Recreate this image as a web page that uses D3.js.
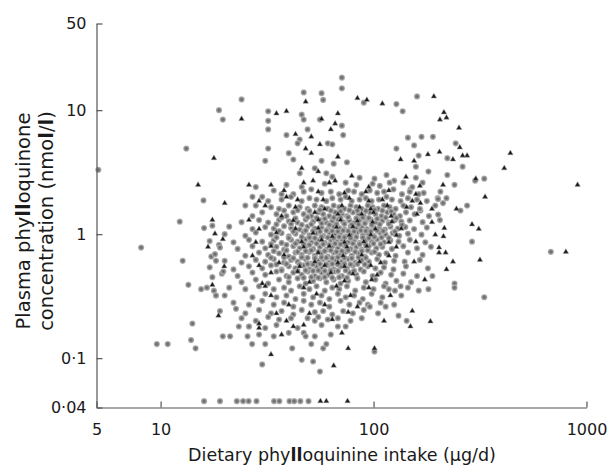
<!DOCTYPE html>
<html><head><meta charset="utf-8">
<script src="https://cdnjs.cloudflare.com/ajax/libs/d3/7.8.5/d3.min.js"></script>
<style>body{margin:0;background:#fff}svg{display:block}</style>
</head><body>
<svg id="chart" width="608" height="466"></svg>
<script>
// ---- tick values & labels ----
const xTicks = [5, 10, 100, 1000];
const xTickLabels = ["5", "10", "100", "1000"];
const yTicks = [0.04, 0.1, 1, 10, 50];
const yTickLabels = ["0·04", "0·1", "1", "10", "50"];

// ---- data: [dietary intake (µg/d), plasma phylloquinone (nmol/l)] ----
const circlesSparse = [
[5.1,3.3],[8.1,0.78],[9.6,0.13],[10.8,0.13],[12.3,1.26],[13.2,4.9],[12.7,0.61],[13.5,0.39],[15.5,0.36],[14.1,0.19],[13.9,0.14],[14.6,0.12],[17.5,1.17],[19.6,0.15],[21.2,0.15],[22.6,0.25],[23.3,0.18],[25.6,0.15],[26.9,0.13],[30,0.089],[41.5,0.12],[40,0.16],[26,0.18],[18.2,0.32],[18.8,10],[19.6,8.4],[15.9,1.87],[24,12.2],[47,13.9],[57,13.7],[71,18.3],[71,15],[160,12.9],[128,11.2],[137,9.8],[90,11.5],[58,12.1],[32,9.8],[32,8.2],[32,7.0],[32,4.9],[31,3.9],[40,4.5],[42,4.0],[39,6.3],[45,5.8],[44,5.4],[49,7.0],[46,9.2],[47,8.4],[56,8.4],[61,5.4],[64,5.3],[71,7.5],[72,6.3],[28,2.4],[25,1.7],[27,2.0],[30,2.0],[37,2.1],[46,2.4],[45,3.1],[53,3.4],[60,3.1],[57,3.9],[65,3.7],[75,3.8],[145,6.0],[168,6.1],[190,6.1],[243,5.4],[155,5.2],[163,4.3],[128,4.9],[158,3.5],[181,3.2],[222,4.1],[262,3.5],[222,3.0],[206,2.2],[200,1.95],[212,1.78],[170,2.6],[163,2.1],[149,2.3],[138,2.6],[125,2.7],[256,1.55],[275,1.7],[201,1.44],[166,1.55],[201,1.92],[331,2.8],[300,2.7],[290,0.87],[331,0.31],[240,0.4],[240,0.37],[163,0.35],[181,0.36],[189,0.46],[134,0.38],[118,0.36],[114,0.26],[94,0.27],[131,0.22],[143,0.2],[101,0.113],[56,0.078],[52,0.094],[58,0.12],[51,0.13],[47,0.16],[48,0.15],[46,0.097],[68,0.18],[49,0.21],[53,0.2],[680,0.72],
[18.8,0.82],[17.3,0.66],[18.2,0.61],[19.4,0.48],[19.7,0.5],[17.5,0.45],[16.5,0.37],[17.8,0.35],[18.2,0.32]
];
const circlesCore = [
[64,2.9],[86,2.85],[101,2.8],[115,3.0],[158,2.85],
[39,2.5],[59,2.55],[74,2.6],[83,2.5],[99,2.55],[107,2.45],[119,2.6],[152,2.4],[240,2.5],
[34,2.25],[42,2.1],[47,2.2],[51,2.3],[57,2.15],[63,2.2],[69,2.1],[76,2.25],[81,2.2],[88,2.1],[96,2.25],[104,2.15],[112,2.2],[124,2.3],[136,2.1],[148,2.2],[172,2.15],
[32,1.85],[37,1.9],[41,2.0],[46,1.85],[50,1.95],[54,1.9],[60,1.85],[64,1.95],[70,1.9],[74,2.0],[79,1.85],[86,1.9],[92,1.95],[98,1.85],[106,1.9],[115,2.0],[122,1.9],[134,1.85],[145,1.95],[160,1.9],[178,1.85],[220,1.95],
[28,1.7],[33,1.65],[36,1.6],[40,1.7],[45,1.65],[49,1.6],[53,1.7],[57,1.65],[61,1.6],[65,1.7],[69,1.65],[73,1.6],[78,1.7],[83,1.65],[88,1.6],[94,1.7],[99,1.65],[105,1.6],[112,1.7],[119,1.65],[127,1.6],[138,1.7],[150,1.65],[165,1.6],[195,1.7],
[27,1.4],[30,1.5],[35,1.45],[39,1.4],[42,1.5],[47,1.45],[51,1.4],[55,1.5],[58,1.45],[62,1.4],[66,1.5],[71,1.45],[75,1.4],[80,1.5],[85,1.45],[90,1.4],[96,1.5],[102,1.45],[109,1.4],[116,1.5],[124,1.45],[133,1.4],[142,1.5],[156,1.45],[182,1.4],
[24,1.25],[29,1.3],[32,1.24],[36,1.3],[40,1.27],[44,1.24],[48,1.31],[52,1.26],[56,1.3],[60,1.24],[64,1.28],[68,1.32],[72,1.25],[77,1.29],[81,1.23],[86,1.3],[92,1.26],[97,1.31],[103,1.25],[110,1.28],[118,1.24],[126,1.3],[135,1.26],[148,1.29],[170,1.25],[205,1.3],
[16,1.12],[21,1.15],[27,1.1],[31,1.14],[34,1.11],[38,1.16],[41,1.12],[45,1.09],[49,1.15],[53,1.11],[57,1.14],[61,1.1],[65,1.16],[69,1.12],[73,1.09],[78,1.15],[83,1.11],[88,1.14],[93,1.1],[99,1.16],[106,1.12],[113,1.09],[120,1.15],[130,1.11],[141,1.14],[155,1.1],[178,1.13],
[20,1.0],[25,0.97],[28,1.03],[33,0.99],[37,1.02],[40,0.96],[43,1.01],[47,1.04],[50,0.98],[54,1.02],[58,0.97],[62,1.03],[66,0.99],[70,1.02],[74,0.96],[79,1.01],[84,1.04],[89,0.98],[94,1.02],[100,0.97],[107,1.03],[114,0.99],[123,1.02],[132,0.97],[145,1.01],[168,0.99],
[17,0.88],[22,0.86],[26,0.9],[30,0.87],[34,0.89],[37,0.85],[41,0.9],[44,0.87],[48,0.91],[51,0.86],[55,0.89],[59,0.85],[63,0.9],[67,0.87],[71,0.91],[76,0.86],[81,0.89],[86,0.85],[92,0.9],[98,0.87],[104,0.91],[112,0.86],[120,0.89],[131,0.87],[148,0.9],[175,0.86],
[19,0.78],[23,0.76],[27,0.8],[31,0.77],[35,0.79],[38,0.75],[42,0.8],[45,0.77],[49,0.81],[52,0.76],[56,0.79],[60,0.75],[64,0.8],[68,0.77],[73,0.81],[78,0.76],[83,0.79],[88,0.75],[95,0.8],[103,0.77],[110,0.79],[122,0.76],[138,0.8],[160,0.77],[186,0.79],
[18,0.69],[25,0.67],[29,0.71],[32,0.68],[36,0.7],[40,0.66],[43,0.71],[46,0.68],[50,0.72],[53,0.67],[57,0.7],[61,0.66],[65,0.71],[69,0.68],[74,0.72],[79,0.67],[85,0.7],[91,0.66],[98,0.71],[106,0.68],[115,0.7],[127,0.67],[145,0.71],[170,0.68],
[20,0.61],[24,0.59],[28,0.62],[31,0.6],[34,0.63],[38,0.59],[41,0.62],[44,0.6],[48,0.63],[51,0.58],[55,0.61],[58,0.63],[62,0.59],[66,0.62],[71,0.6],[76,0.63],[82,0.59],[88,0.62],[95,0.6],[104,0.63],[113,0.59],[125,0.61],[140,0.6],[165,0.62],
[17,0.54],[22,0.52],[26,0.55],[30,0.53],[33,0.56],[37,0.52],[40,0.55],[43,0.53],[47,0.56],[50,0.52],[54,0.55],[57,0.53],[61,0.56],[65,0.52],[70,0.55],[75,0.53],[80,0.56],[87,0.52],[94,0.55],[102,0.53],[112,0.54],[124,0.52],[142,0.55],[180,0.53],
[23,0.46],[27,0.49],[31,0.47],[35,0.5],[39,0.46],[42,0.49],[46,0.47],[49,0.5],[53,0.46],[57,0.49],[61,0.47],[66,0.5],[71,0.46],[77,0.49],[83,0.47],[90,0.5],[99,0.46],[108,0.49],[121,0.47],[138,0.48],[160,0.46],
[24,0.41],[28,0.43],[32,0.4],[36,0.43],[40,0.41],[44,0.44],[48,0.4],[52,0.42],[56,0.44],[60,0.41],[65,0.43],[70,0.4],[76,0.42],[84,0.44],[92,0.41],[102,0.43],[114,0.4],[128,0.42],[150,0.41],
[21,0.37],[25,0.36],[29,0.38],[34,0.36],[38,0.37],[41,0.35],[45,0.38],[50,0.36],[54,0.38],[59,0.35],[64,0.37],[69,0.36],[75,0.38],[82,0.35],[90,0.37],[100,0.36],[112,0.38],[126,0.35],[145,0.37],
[20,0.32],[27,0.31],[31,0.33],[35,0.31],[39,0.32],[43,0.3],[47,0.33],[52,0.31],[57,0.32],[62,0.3],[68,0.33],[74,0.31],[81,0.32],[89,0.3],[98,0.33],[110,0.31],[135,0.32],
[22,0.28],[26,0.27],[30,0.29],[34,0.27],[38,0.28],[42,0.26],[47,0.29],[51,0.27],[56,0.28],[62,0.26],[70,0.29],[77,0.27],[86,0.28],[96,0.26],[108,0.28],[125,0.27],
[19,0.24],[25,0.23],[29,0.245],[33,0.23],[37,0.24],[42,0.225],[46,0.245],[53,0.235],[58,0.24],[64,0.225],[72,0.24],[80,0.23],[90,0.245],[105,0.23],
[24,0.21],[28,0.2],[32,0.215],[36,0.205],[41,0.21],[55,0.215],[61,0.205],[68,0.21],[78,0.2],[88,0.21],
[26,0.18],[31,0.175],[35,0.185],[44,0.175],[57,0.185],[74,0.18],
[29,0.155],[34,0.15],[53,0.15],[63,0.155],
[31,0.13],[60,0.13]
];
const circlesDense = [
[38,1.55],[44,1.56],[50,1.54],[56,1.57],[63,1.55],[70,1.53],[77,1.56],[84,1.55],[92,1.54],[101,1.57],[110,1.55],[121,1.53],
[37,1.36],[43,1.34],[49,1.37],[54,1.35],[59,1.33],[65,1.36],[70,1.35],[76,1.37],[83,1.34],[89,1.36],[95,1.35],[104,1.33],[114,1.36],[128,1.35],
[35,1.2],[41,1.21],[46,1.19],[51,1.2],[57,1.22],[62,1.19],[67,1.2],[73,1.21],[79,1.19],[85,1.2],[91,1.22],[98,1.19],[107,1.2],[118,1.21],[136,1.19],
[36,1.06],[42,1.05],[48,1.07],[52,1.06],[56,1.05],[60,1.07],[64,1.06],[68,1.05],[72,1.07],[76,1.06],[81,1.05],[87,1.07],[92,1.06],[97,1.05],[104,1.07],[111,1.06],[126,1.05],
[35,0.94],[40,0.93],[46,0.95],[50,0.94],[53,0.93],[57,0.95],[61,0.94],[65,0.93],[69,0.95],[73,0.94],[78,0.93],[83,0.95],[89,0.94],[95,0.93],[101,0.95],[109,0.94],[118,0.93],
[33,0.83],[39,0.82],[43,0.84],[47,0.83],[50,0.82],[54,0.84],[58,0.83],[62,0.82],[66,0.84],[70,0.83],[74,0.82],[80,0.84],[86,0.83],[92,0.82],[100,0.84],[108,0.83],
[34,0.73],[39,0.74],[44,0.72],[48,0.73],[51,0.74],[55,0.72],[59,0.73],[63,0.74],[67,0.72],[71,0.73],[76,0.74],[82,0.72],[88,0.73],[94,0.74],[101,0.72],
[33,0.645],[38,0.65],[42,0.64],[46,0.65],[49,0.645],[53,0.64],[57,0.65],[60,0.645],[64,0.64],[68,0.65],[73,0.645],[79,0.64],[85,0.65],[92,0.645],
[35,0.57],[39,0.575],[45,0.57],[49,0.575],[52,0.57],[56,0.575],[60,0.57],[64,0.575],[68,0.57],[73,0.575],[78,0.57],[84,0.575],[91,0.57],
[37,0.51],[44,0.505],[48,0.51],[52,0.505],[55,0.51],[59,0.505],[63,0.51],[68,0.505],[74,0.51],[81,0.505],
[40,0.45],[47,0.445],[51,0.45],[55,0.445],[59,0.45],[64,0.445],[69,0.45],[75,0.445]
];
const circlesBelowLimit = [
[16,0.045],[19,0.045],[22.8,0.045],[24.4,0.045],[25.9,0.045],[28.2,0.045],[34.1,0.045],[36.1,0.045],[40.3,0.045],[42.4,0.045],[45.3,0.045],[49.5,0.045]
];
const trianglesSparse = [
[24,8.5],[17.8,4.1],[15,2.5],[20,1.78],[17.5,1.3],[16.7,0.79],[18.7,0.22],[33,0.107],[42,0.18],[29,0.19],[29,0.175],[908,2.5],[439,4.5],[411,3.4],[334,2.0],[302,2.8],[252,7.2],[192,12.9],[214,9.6],[205,8.4],[220,8.7],[110,11.3],[84,12.5],[93,12.1],[254,5.0],[275,4.3],[262,4.3],[236,4.0],[204,4.6],[180,4.4],[134,4.0],[212,2.5],[188,1.6],[166,1.78],[316,0.62],[290,1.2],[312,1.1],[236,0.6],[220,0.52],[213,0.96],[218,0.71],[203,0.78],[203,0.71],[185,0.198],[152,0.24],[149,0.18],[174,0.43],[101,0.12],[76,0.12],[65,0.087],[800,0.72],[35,9.4],[39,9.8],[48,11.7],[43,6.4],[51,6.1],[48,4.9],[51,4.5],[56,5.3],[57,8.5],[63,7.0],[66,7.8],[68,9.4],[26,2.5],[33,2.5],[39,2.0],[47,2.6],[52,2.7],[46,3.4],[55,3.2],[68,4.2],[66,2.7],[155,3.9],[19.6,0.91],[19.9,0.55],[17.5,0.39]
];
const trianglesCore = [
[79,2.95],[142,2.9],
[62,2.6],[95,2.4],[165,2.45],
[38,2.25],[55,2.2],[73,2.15],[92,2.2],[118,2.25],[158,2.1],
[29,1.85],[44,1.9],[58,1.9],[77,1.95],[95,1.85],[110,1.9],[152,1.85],
[31,1.7],[43,1.65],[59,1.6],[71,1.7],[86,1.65],[97,1.6],[116,1.7],[143,1.65],[245,1.6],
[37,1.4],[53,1.5],[68,1.45],[88,1.45],[100,1.5],[121,1.4],[160,1.45],
[26,1.3],[42,1.29],[55,1.31],[70,1.3],[84,1.28],[99,1.25],[122,1.26],[188,1.25],
[29,1.1],[43,1.11],[55,1.12],[67,1.14],[80,1.15],[102,1.1],[135,1.11],[215,1.12],
[18,1.01],[35,1.03],[52,1.02],[64,0.96],[77,0.98],[97,0.99],[128,0.98],[195,0.99],
[28,0.86],[46,0.87],[57,0.9],[73,0.86],[90,0.87],[118,0.86],[158,0.87],
[33,0.8],[47,0.79],[62,0.8],[75,0.79],[93,0.8],[128,0.79],
[27,0.67],[38,0.68],[55,0.71],[72,0.67],[88,0.68],[118,0.67],
[36,0.59],[53,0.6],[68,0.59],[86,0.6],[108,0.59],[155,0.6],
[29,0.56],[45,0.55],[59,0.56],[73,0.55],[97,0.56],
[33,0.49],[44,0.5],[63,0.49],[80,0.48],[104,0.47],
[30,0.4],[50,0.41],[73,0.42],[98,0.43],
[31,0.38],[47,0.37],[67,0.38],[95,0.37],
[33,0.32],[54,0.33],[78,0.32],[120,0.32],
[40,0.27],[59,0.27],[84,0.26],
[35,0.23],[50,0.23],[76,0.235],
[39,0.2],[64,0.205],[112,0.2],
[47,0.185],
[37,0.155],[71,0.16]
];
const trianglesBelowLimit = [[56.3,0.045],[60,0.045],[75.5,0.045]];

const circles = circlesSparse.concat(circlesCore, circlesDense, circlesBelowLimit);
const triangles = trianglesSparse.concat(trianglesCore, trianglesBelowLimit);

// ---- drawing ----
const svg = d3.select("#chart");
const FONT = "'DejaVu Sans', 'Liberation Sans', Arial, sans-serif";
const x = d3.scaleLog().domain([5, 1000]).range([96.5, 586.5]);
const y = d3.scaleLog().domain([0.04, 50]).range([407.5, 23.5]);

const defs = svg.append("defs");
const grad = defs.append("radialGradient").attr("id", "dotGrad");
grad.append("stop").attr("offset", "0%").attr("stop-color", "#5a5a5a");
grad.append("stop").attr("offset", "55%").attr("stop-color", "#8a8a8a");
grad.append("stop").attr("offset", "100%").attr("stop-color", "#bbbbbb");

svg.append("g").selectAll("circle").data(circles).join("circle")
  .attr("cx", d => x(d[0])).attr("cy", d => y(d[1])).attr("r", 3.1)
  .attr("fill", "url(#dotGrad)");

const tri = d3.symbol(d3.symbolTriangle, 13);
svg.append("g").selectAll("path").data(triangles).join("path")
  .attr("transform", d => `translate(${x(d[0])},${y(d[1])})`)
  .attr("d", tri).attr("fill", "#1a1a1a").attr("stroke", "#a0a0a0").attr("stroke-width", 0.5);

// axes
const xAxis = d3.axisBottom(x).tickValues(xTicks).tickFormat((d, i) => xTickLabels[i])
  .tickSizeInner(-6).tickSizeOuter(0).tickPadding(16);
const gx = svg.append("g").attr("transform", "translate(0,407.5)").call(xAxis);
const yAxis = d3.axisLeft(y).tickValues(yTicks).tickFormat((d, i) => yTickLabels[i])
  .tickSizeInner(-6).tickSizeOuter(0).tickPadding(10);
const gy = svg.append("g").attr("transform", "translate(96.5,0)").call(yAxis);
[gx, gy].forEach(g => {
  g.select(".domain").attr("stroke", "#555").attr("stroke-width", 1.2);
  g.selectAll(".tick line").attr("stroke", "#555").attr("stroke-width", 1.2);
  g.selectAll(".tick text").attr("fill", "#1a1a1a").style("font-family", FONT).style("font-size", "16px");
});

// axis titles
const xt = svg.append("text").attr("x", 342).attr("y", 461).attr("text-anchor", "middle")
  .style("font-family", FONT).style("font-size", "17.5px").attr("fill", "#1a1a1a");
xt.append("tspan").text("Dietary phy");
xt.append("tspan").attr("font-weight", "bold").text("ll");
xt.append("tspan").text("oquinine intake (μg/d)");

const yt1 = svg.append("text").attr("transform", "translate(30,221) rotate(-90)").attr("text-anchor", "middle")
  .style("font-family", FONT).style("font-size", "19.5px").attr("fill", "#1a1a1a");
yt1.append("tspan").text("Plasma phy");
yt1.append("tspan").attr("font-weight", "bold").text("ll");
yt1.append("tspan").text("oquinone");

const yt2 = svg.append("text").attr("transform", "translate(53,221) rotate(-90)").attr("text-anchor", "middle")
  .style("font-family", FONT).style("font-size", "19.5px").attr("fill", "#1a1a1a");
yt2.append("tspan").text("concentration (nmo");
yt2.append("tspan").attr("font-weight", "bold").text("l");
yt2.append("tspan").text("/");
yt2.append("tspan").attr("font-weight", "bold").text("l");
yt2.append("tspan").text(")");
</script>
</body></html>
